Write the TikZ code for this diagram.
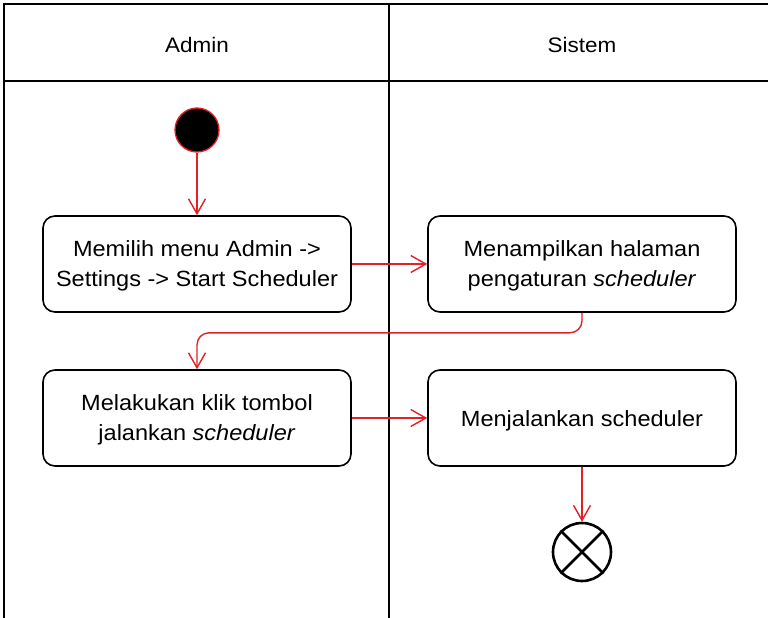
\documentclass[tikz,border=0pt]{standalone}
\usepackage{fontspec}
\setmainfont[FakeStretch=1.07]{Liberation Sans}
\usetikzlibrary{arrows.meta}
\definecolor{flowred}{RGB}{228,32,36}
\tikzset{
  lane/.style={line width=1.8pt, black},
  action/.style={draw=black, line width=1.6pt, rounded corners=12pt, fill=white,
    minimum width=308pt, minimum height=96pt, align=center,
    font=\fontsize{22}{30}\selectfont},
  flow/.style={draw=flowred, line width=1.4pt,
    -{Straight Barb[length=15pt,width=17pt,line width=1.4pt]}},
  lanetitle/.style={font=\fontsize{21}{25}\selectfont},
}
\begin{document}
\begin{tikzpicture}[x=1pt,y=-1pt]
\useasboundingbox (0,0) rectangle (768,618);
% swimlane frame
\draw[lane] (768,4) -- (4,4) -- (4,618);
\draw[lane] (4,81) -- (768,81);
\draw[lane] (389,4) -- (389,618);
\node[lanetitle] (hAdmin) at (197,45) {Admin};
\node[lanetitle] (hSistem) at (582,45) {Sistem};
% initial and final states
\node[circle, fill=black, draw=flowred, line width=1.3pt, minimum size=44pt, inner sep=0pt] (start) at (197,130) {};
\node[circle, draw=black, line width=2.6pt, minimum size=58pt, inner sep=0pt] (stop) at (582,552) {};
\draw[line width=2.6pt] (stop.north west) -- (stop.south east) (stop.north east) -- (stop.south west);
% actions
\node[action] (a1) at (197,264) {};
\node[action] (a2) at (582,264) {};
\node[action] (a3) at (197,418) {};
\node[action] (a4) at (582,418) {};
\node[align=center, font=\fontsize{22}{30}\selectfont] (t1) at ([yshift=-2pt]a1.center) {Memilih menu Admin ->\\Settings -> Start Scheduler};
\node[align=center, font=\fontsize{22}{30}\selectfont] (t2) at ([yshift=-2pt]a2.center) {Menampilkan halaman\\pengaturan \textit{scheduler}};
\node[align=center, font=\fontsize{22}{30}\selectfont] (t3) at ([yshift=-2pt]a3.center) {Melakukan klik tombol\\jalankan \textit{scheduler}};
\node[align=center, font=\fontsize{22}{30}\selectfont] (t4) at ([yshift=-3pt]a4.center) {Menjalankan scheduler};
% transitions
\draw[flow] (start) -- (a1);
\draw[flow] (a1) -- (a2);
\draw[flow, rounded corners=12pt] (a2.south) -- ++(0,20) -| (a3.north);
\draw[flow] (a3) -- (a4);
\draw[flow] (a4) -- (stop);
\end{tikzpicture}
\end{document}
